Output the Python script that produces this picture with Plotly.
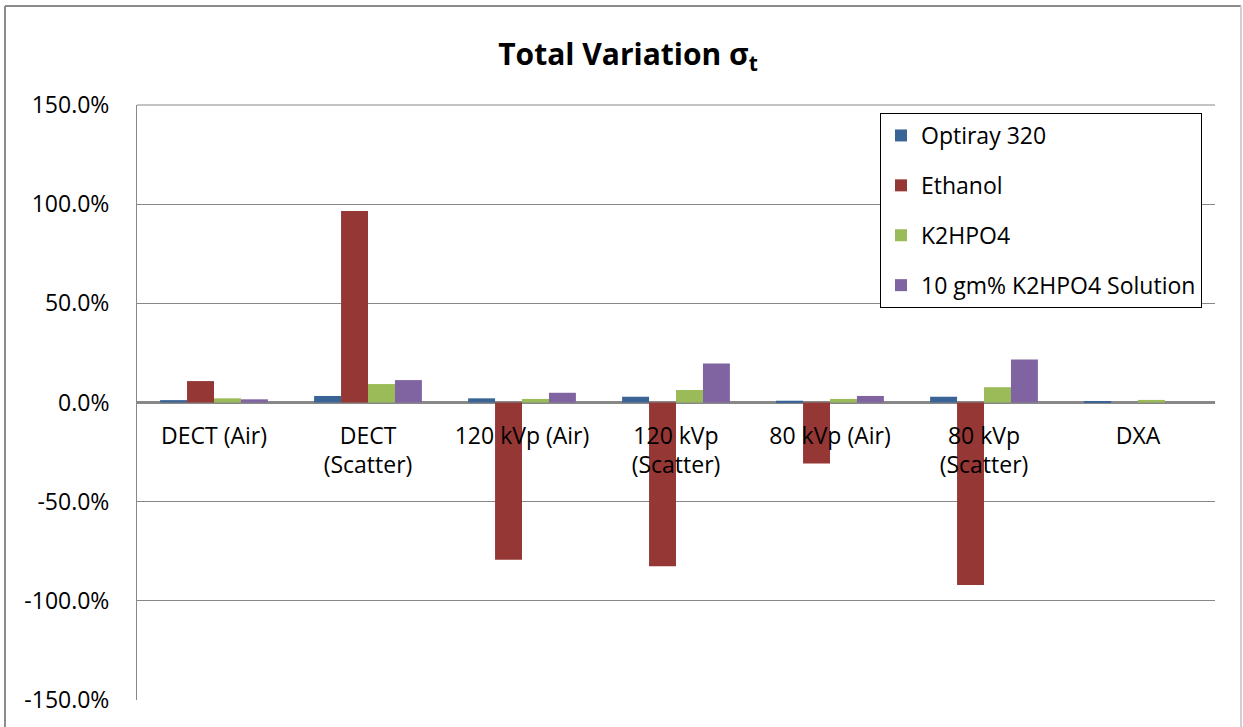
import plotly.graph_objects as go

categories = ["DECT (Air)", "DECT<br>(Scatter)", "120 kVp (Air)", "120 kVp<br>(Scatter)",
              "80 kVp (Air)", "80 kVp<br>(Scatter)", "DXA"]
optiray = [1.2, 3.3, 2.1, 2.9, 0.9, 2.9, 0.4]
ethanol = [10.8, 96.5, -79.3, -82.5, -30.8, -92.0, 0.0]
k2hpo4 = [2.1, 9.3, 1.8, 6.3, 1.8, 7.7, 1.3]
solution = [1.6, 11.3, 4.9, 19.7, 3.3, 21.7, 0.0]
y_ticks = [-150, -100, -50, 0, 50, 100, 150]
y_tick_labels = ["-150.0%", "-100.0%", "-50.0%", "0.0%", "50.0%", "100.0%", "150.0%"]

series = [
    ("Optiray 320", optiray, "#3A6396"),
    ("Ethanol", ethanol, "#953735"),
    ("K2HPO4", k2hpo4, "#9BBB59"),
    ("10 gm% K2HPO4 Solution", solution, "#8064A2"),
]

FONT = "Open Sans, Noto Sans, sans-serif"
FS = 23

fig = go.Figure()
for i, (name, vals, col) in enumerate(series):
    fig.add_trace(go.Bar(
        x=categories, y=vals, name=name, legendgroup=str(i),
        marker=dict(color=col, line=dict(width=0)),
    ))

L, R, T, B = 137, 28, 105, 27
W, H = 1243, 727
pw, ph = W - L - R, H - T - B

def px(x):
    return (x - L) / pw

def py(y):
    return (H - B - y) / ph

fig.update_layout(
    width=W, height=H,
    margin=dict(l=L, r=R, t=T, b=B, pad=0),
    paper_bgcolor="white", plot_bgcolor="white",
    barmode="group", bargap=0.3, bargroupgap=0,
    font=dict(family=FONT, size=FS, color="black"),
    title=dict(text="<b>Total Variation σ<sub>t</sub></b>", x=(628 - L) / pw, xref="paper",
               xanchor="center", y=1 - 54 / H, yanchor="middle",
               font=dict(family=FONT, size=30, color="black")),
    showlegend=True,
    legend=dict(x=px(880), y=py(113), xanchor="left", yanchor="top",
                bgcolor="white", bordercolor="black", borderwidth=1,
                font=dict(family=FONT, size=FS, color="black"),
                tracegroupgap=17, traceorder="grouped", itemwidth=30),
    xaxis=dict(anchor="free", position=0.5, showline=False, showgrid=False,
               ticks="", tickfont=dict(family=FONT, size=FS, color="black"),
               ticklabelstandoff=17, zeroline=False),
    yaxis=dict(range=[-150, 150], tickmode="array", tickvals=y_ticks, ticktext=y_tick_labels,
               showgrid=True, gridcolor="#888888", gridwidth=1,
               zeroline=True, zerolinecolor="#888888", zerolinewidth=3,
               showline=True, linecolor="#888888", linewidth=1,
               ticks="", ticklabelstandoff=22,
               tickfont=dict(family=FONT, size=FS, color="black")),
    shapes=[
        dict(type="line", xref="paper", yref="paper", x0=px(5), x1=px(5), y0=py(6), y1=py(740),
             line=dict(color="#8C8C8C", width=2)),
        dict(type="line", xref="paper", yref="paper", x0=px(5), x1=px(1241), y0=py(6), y1=py(6),
             line=dict(color="#8C8C8C", width=2)),
        dict(type="line", xref="paper", yref="paper", x0=px(1241), x1=px(1241), y0=py(6), y1=py(740),
             line=dict(color="#D0D0D0", width=2)),
        dict(type="line", xref="paper", yref="paper", x0=0, x1=1, y0=1, y1=1,
             line=dict(color="#888888", width=1)),
    ],
)

fig.write_html("out.html", config={"displayModeBar": False},
               post_script="document.body.style.margin='0px';")
